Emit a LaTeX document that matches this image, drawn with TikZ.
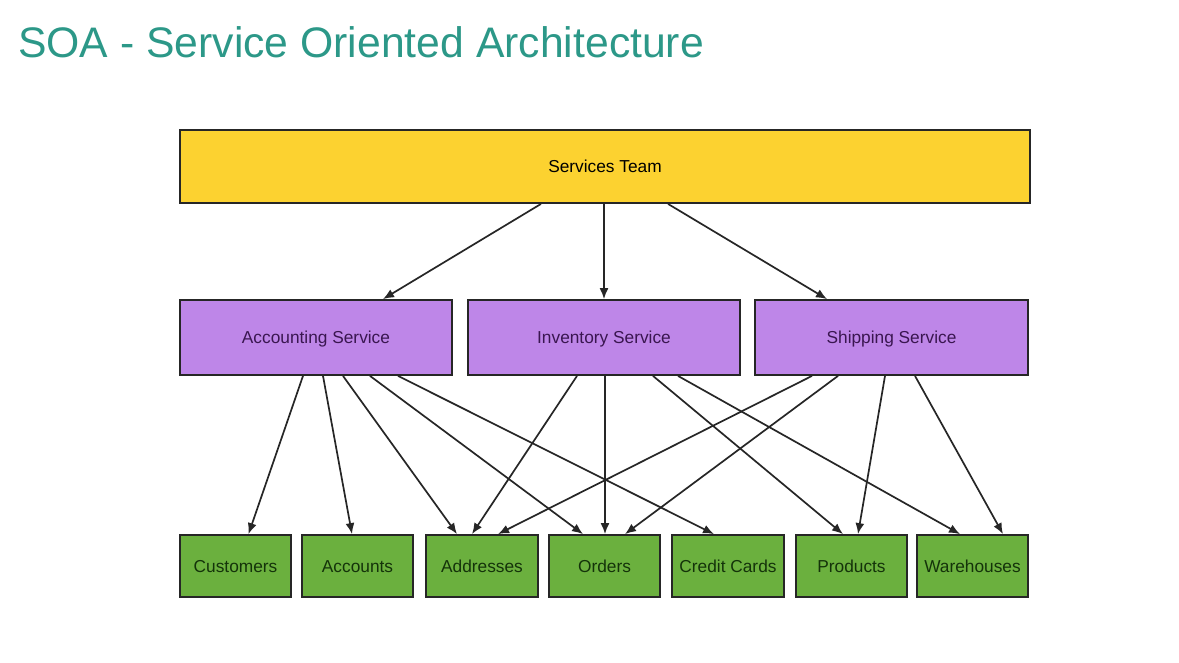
\documentclass[tikz,border=0pt]{standalone}
\usepackage{fontspec}
\setmainfont{Liberation Sans}
\usetikzlibrary{arrows.meta}
\definecolor{teal1}{HTML}{2C9888}
\definecolor{yel}{HTML}{FCD230}
\definecolor{pur}{HTML}{BE86E8}
\definecolor{grn}{HTML}{6BB03E}
\definecolor{bord}{HTML}{262626}
\definecolor{purtxt}{HTML}{3A1650}
\definecolor{grntxt}{HTML}{14330A}
\tikzset{
  box/.style={draw=bord, line width=1.8pt, rectangle, inner sep=0pt, text height=12.5pt, text depth=0pt, font=\fontsize{17.3}{20}\selectfont},
  topbox/.style={box, fill=yel, minimum width=850pt, minimum height=73pt, text=black},
  svcbox/.style={box, fill=pur, minimum width=272pt, minimum height=75pt, text=purtxt},
  tblbox/.style={box, fill=grn, minimum width=111pt, minimum height=62pt, text=grntxt},
  arr/.style={draw=bord, line width=1.7pt, -{Latex[length=11pt,width=9pt]}}
}
\begin{document}
\begin{tikzpicture}[x=1pt,y=-1pt]
\useasboundingbox[fill=white] (0,0) rectangle (1179,662);
\node[anchor=base west, text=teal1, font=\fontsize{42.7}{48}\selectfont, inner sep=0pt] (title) at (18,57) {SOA - Service Oriented Architecture};

\node[topbox] (svc) at (605,166.5) {Services Team};
\node[svcbox] (acc) at (316,337.5) {Accounting Service};
\node[svcbox] (inv) at (604,337.5) {Inventory Service};
\node[svcbox, minimum width=273pt] (shp) at (891.5,337.5) {Shipping Service};

\node[tblbox] (cus) at (235.5,566) {Customers};
\node[tblbox] (acn) at (357.5,566) {Accounts};
\node[tblbox, minimum width=112pt] (adr) at (482,566) {Addresses};
\node[tblbox] (ord) at (604.5,566) {Orders};
\node[tblbox, minimum width=112pt] (crd) at (728,566) {Credit Cards};
\node[tblbox] (prd) at (851.5,566) {Products};
\node[tblbox] (war) at (972.5,566) {Warehouses};

% Services team
\draw[arr] ([xshift=-64pt]svc.south) -- ([xshift=67pt]acc.north);
\draw[arr] ([xshift=-1pt]svc.south) -- (inv.north);
\draw[arr] ([xshift=63pt]svc.south) -- ([xshift=-64.5pt]shp.north);

% Accounting
\draw[arr] ([xshift=-13pt]acc.south) -- ([xshift=13pt]cus.north);
\draw[arr] ([xshift=7pt]acc.south) -- ([xshift=-5.5pt]acn.north);
\draw[arr] ([xshift=27pt]acc.south) -- ([xshift=-25pt]adr.north);
\draw[arr] ([xshift=54pt]acc.south) -- ([xshift=-21.5pt]ord.north);
\draw[arr] ([xshift=82pt]acc.south) -- ([xshift=-14pt]crd.north);

% Inventory
\draw[arr] ([xshift=-27pt]inv.south) -- ([xshift=-10pt]adr.north);
\draw[arr] ([xshift=1pt]inv.south) -- ([xshift=0.5pt]ord.north);
\draw[arr] ([xshift=49pt]inv.south) -- ([xshift=-8.5pt]prd.north);
\draw[arr] ([xshift=74pt]inv.south) -- ([xshift=-12.5pt]war.north);

% Shipping
\draw[arr] ([xshift=-79.5pt]shp.south) -- ([xshift=16pt]adr.north);
\draw[arr] ([xshift=-53.5pt]shp.south) -- ([xshift=20.5pt]ord.north);
\draw[arr] ([xshift=-6.5pt]shp.south) -- ([xshift=6.5pt]prd.north);
\draw[arr] ([xshift=23.5pt]shp.south) -- ([xshift=30.5pt]war.north);
\end{tikzpicture}
\end{document}
